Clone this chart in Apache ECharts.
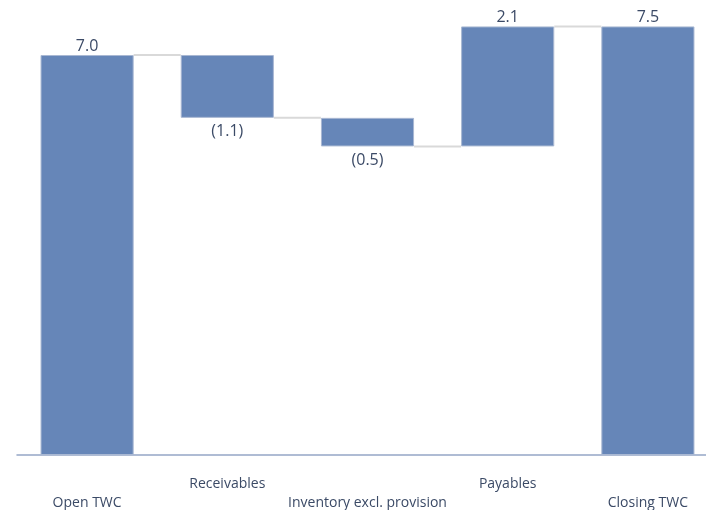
<!DOCTYPE html>
<html>
<head>
<meta charset="utf-8">
<script src="https://cdn.jsdelivr.net/npm/echarts@6/dist/echarts.min.js"></script>
<style>html,body{margin:0;padding:0;background:#fff}#c{width:706px;height:510px}</style>
</head>
<body>
<div id="c"></div>
<script>
var categories = ['Open TWC', 'Receivables', 'Inventory excl. provision', 'Payables', 'Closing TWC'];
var changes = [7.0, -1.1, -0.5, 2.1, 7.5];
var isTotal = [true, false, false, false, true];

// derive stacked base/height for waterfall
var bases = [], heights = [], ends = [];
var running = 0;
for (var i = 0; i < changes.length; i++) {
  if (isTotal[i]) {
    bases.push(0); heights.push(changes[i]); running = changes[i];
  } else {
    var next = running + changes[i];
    bases.push(Math.min(running, next));
    heights.push(Math.abs(changes[i]));
    running = next;
  }
  ends.push(running);
}
var connectors = [];
for (var j = 0; j < changes.length - 1; j++) connectors.push([j, ends[j]]);

function fmt(v) { return v < 0 ? '(' + Math.abs(v).toFixed(1) + ')' : v.toFixed(1); }

var textColor = '#3b4a66';
var font = '"Open Sans", "Noto Sans", sans-serif';
var barRatio = 93 / 140;

var chart = echarts.init(document.getElementById('c'));
chart.setOption({
  animation: false,
  grid: { left: 17, width: 701, top: 0, height: 455, outerBoundsMode: 'none', containLabel: false },
  xAxis: {
    type: 'category',
    data: categories,
    axisLine: { lineStyle: { color: '#95a6c6', width: 1.5 } },
    axisTick: { show: false },
    axisLabel: {
      interval: 0,
      margin: 20,
      color: textColor,
      fontFamily: font,
      fontSize: 14,
      lineHeight: 19,
      formatter: function (v, idx) { return idx % 2 === 0 ? '\n' + v : v; }
    }
  },
  yAxis: { type: 'value', min: 0, max: 7.9625, show: false, splitLine: { show: false } },
  series: [
    {
      type: 'bar', stack: 'w', barWidth: (barRatio * 100) + '%',
      itemStyle: { color: 'transparent' },
      data: bases, silent: true
    },
    {
      type: 'bar', stack: 'w', barWidth: (barRatio * 100) + '%',
      itemStyle: { color: '#6686b8', borderColor: '#a9b8d3', borderWidth: 1 },
      data: heights.map(function (h, k) {
        return {
          value: h,
          label: {
            show: true,
            position: changes[k] < 0 ? 'bottom' : 'top',
            distance: changes[k] < 0 ? 6 : 1,
            formatter: fmt(changes[k]),
            color: textColor,
            fontFamily: font,
            fontSize: 16
          }
        };
      })
    },
    {
      type: 'custom',
      data: connectors,
      renderItem: function (params, api) {
        var idx = api.value(0), v = api.value(1);
        var p1 = api.coord([idx, v]);
        var p2 = api.coord([idx + 1, v]);
        var bw = api.size([1, 0])[0] * barRatio;
        return {
          type: 'line',
          shape: { x1: p1[0] + bw / 2, y1: p1[1], x2: p2[0] - bw / 2, y2: p2[1] },
          style: { stroke: '#d9d9d9', lineWidth: 2 }
        };
      },
      z: 1
    }
  ]
});
</script>
</body>
</html>
